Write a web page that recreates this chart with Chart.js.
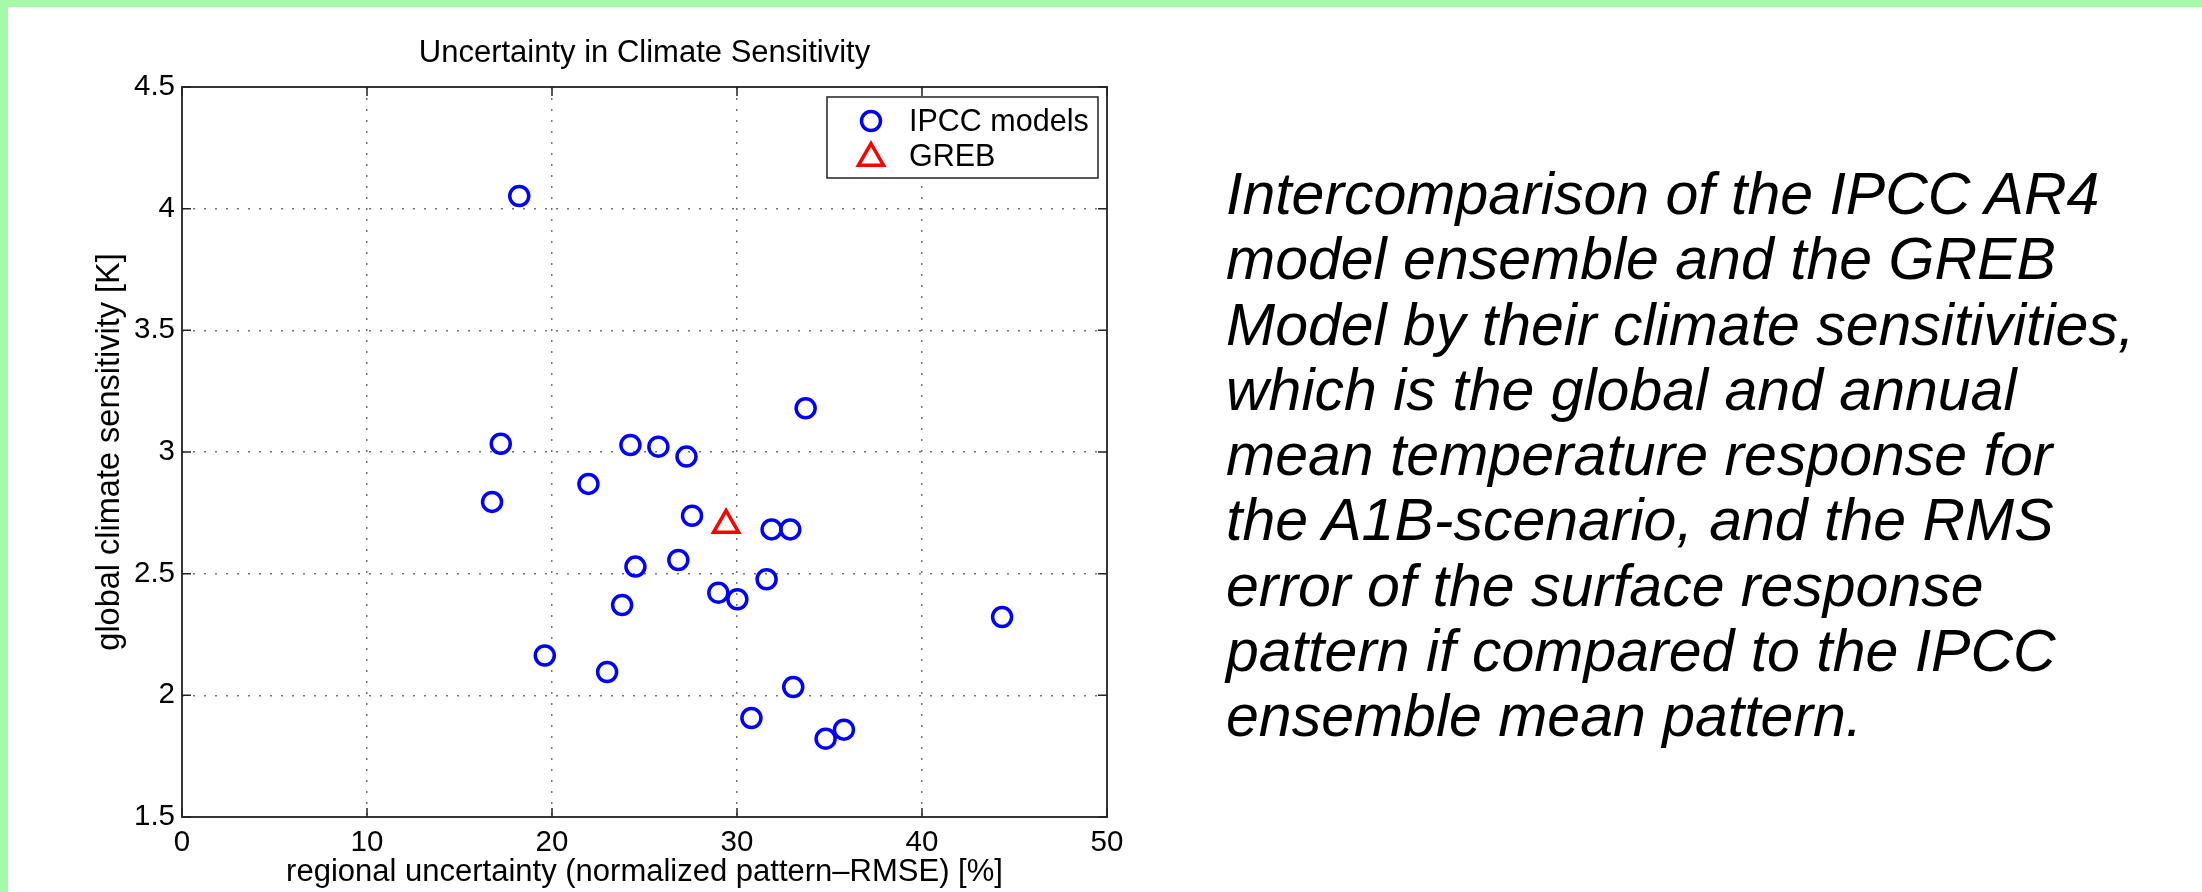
<!DOCTYPE html>
<html>
<head>
<meta charset="utf-8">
<script src="https://cdn.jsdelivr.net/npm/chart.js@4.4.1/dist/chart.umd.min.js"></script>
<style>
  html, body { margin: 0; padding: 0; background: #fff; }
  body { width: 2202px; height: 892px; position: relative; overflow: hidden; }
  .band-top { position: absolute; left: 0; top: 0; width: 2202px; height: 7px; background: #a6f9a6; z-index: 2; }
  .band-left { position: absolute; left: 0; top: 0; width: 8px; height: 892px; background: #a6f9a6; z-index: 2; }
  #plot { position: absolute; left: 0; top: 0; width: 1150px; height: 892px; }
  .caption {
    position: absolute; left: 1226px; top: 162px;
    font-family: 'Liberation Sans', Arial, sans-serif; font-style: italic;
    font-size: 59px; line-height: 65.3px; color: #000; white-space: nowrap;
  }
</style>
</head>
<body>
<div id="plot"><canvas id="myChart"></canvas></div>
<div class="caption">Intercomparison of the IPCC AR4<br>model ensemble and the GREB<br>Model by their climate sensitivities,<br>which is the global and annual<br>mean temperature response for<br>the A1B-scenario, and the RMS<br>error of the surface response<br>pattern if compared to the IPCC<br>ensemble mean pattern.</div>
<div class="band-top"></div>
<div class="band-left"></div>
<script>
'use strict';

(function () {

   // IPCC AR4 models: regional uncertainty [%] and global climate sensitivity [K]
   var ipccX = [17.23, 24.24, 25.75, 27.27, 21.97, 16.76, 27.57, 31.87, 32.88, 26.83, 24.51, 31.60,
                28.99, 30.02, 23.79, 44.33, 19.61, 22.98, 33.04, 30.78, 35.78, 34.79, 18.23, 33.71];
   var ipccY = [3.034, 3.029, 3.022, 2.981, 2.869, 2.795, 2.738, 2.682, 2.682, 2.556, 2.529, 2.477,
                2.422, 2.395, 2.371, 2.322, 2.164, 2.096, 2.034, 1.907, 1.859, 1.822, 4.052, 3.180];

   // GREB model
   var grebX = [29.41];
   var grebY = [2.70];

   var seriesNames = ['IPCC models', 'GREB'];
   var xTickLabels = ['0', '10', '20', '30', '40', '50'];
   var yTickLabels = ['1.5', '2', '2.5', '3', '3.5', '4', '4.5'];

   var fontFam = "'Liberation Sans', Arial, Helvetica, sans-serif";
   Chart.defaults.font.family = fontFam;
   Chart.defaults.color = '#000';

   function toPoints(xs, ys) {
      return xs.map(function (x, i) { return {x: x, y: ys[i]}; });
   }

   // grid only on the inner ticks, the edges are the box
   function gridColor(ctx) {
      var s = ctx.scale;
      if (ctx.tick && (ctx.tick.value === s.min || ctx.tick.value === s.max)) return 'rgba(0,0,0,0)';
      return 'rgba(0,0,0,0.55)';
   }

   //matlab-like box, inward ticks and legend
   var boxPlugin = {
      id: 'matlabBox',
      afterDraw: function (chart) {
         var ctx = chart.ctx, a = chart.chartArea;
         var xs = chart.scales.x, ys = chart.scales.y;
         ctx.save();
         ctx.strokeStyle = '#222';
         ctx.lineWidth = 1.8;
         ctx.strokeRect(a.left, a.top, a.right - a.left, a.bottom - a.top);

         ctx.lineWidth = 1.5;
         ctx.beginPath();
         xs.ticks.forEach(function (t) {
            var px = xs.getPixelForValue(t.value);
            ctx.moveTo(px, a.bottom); ctx.lineTo(px, a.bottom - 9);
            ctx.moveTo(px, a.top); ctx.lineTo(px, a.top + 9);
         });
         ys.ticks.forEach(function (t) {
            var py = ys.getPixelForValue(t.value);
            ctx.moveTo(a.left, py); ctx.lineTo(a.left + 9, py);
            ctx.moveTo(a.right, py); ctx.lineTo(a.right - 9, py);
         });
         ctx.stroke();

         // legend box, top right inside the axes
         var bw = 271, bh = 81;
         var bx = a.right - 9 - bw, by = a.top + 10;
         ctx.fillStyle = '#fff';
         ctx.fillRect(bx, by, bw, bh);
         ctx.strokeStyle = '#222';
         ctx.lineWidth = 1.5;
         ctx.strokeRect(bx, by, bw, bh);

         var rows = [by + 24, by + 61];
         ctx.font = '30.5px ' + fontFam;
         ctx.textBaseline = 'alphabetic';
         chart.data.datasets.forEach(function (ds, i) {
            var cx = bx + 44, cy = rows[i];
            ctx.strokeStyle = ds.borderColor;
            ctx.fillStyle = 'rgba(0,0,0,0)';
            ctx.lineWidth = ds.pointBorderWidth;
            Chart.helpers.drawPoint(ctx, {
               pointStyle: ds.pointStyle, radius: ds.pointRadius,
               borderWidth: ds.pointBorderWidth, rotation: 0
            }, cx, cy);
            ctx.fillStyle = '#000';
            ctx.fillText(ds.label, bx + 82, cy + 10 + (i === 1 ? -2 : 0));
         });
         ctx.restore();
      }
   };

   var ctx = document.getElementById('myChart').getContext('2d');
   var myChart = new Chart(ctx, {
      type: 'scatter',
      data: {
         datasets: [{
            label: seriesNames[0],
            data: toPoints(ipccX, ipccY),
            pointStyle: 'circle',
            pointRadius: 9.5,
            pointBorderWidth: 3.5,
            borderColor: '#0000ff',
            backgroundColor: 'rgba(0,0,0,0)'
         }, {
            label: seriesNames[1],
            data: toPoints(grebX, grebY),
            pointStyle: 'triangle',
            pointRadius: 14.5,
            pointBorderWidth: 3.5,
            borderColor: '#ff0000',
            backgroundColor: 'rgba(0,0,0,0)'
         }]
      },
      options: {
         responsive: true,
         maintainAspectRatio: false,
         devicePixelRatio: 1,
         animation: false,
         layout: { padding: {left: 0, top: 0, right: 43, bottom: 0} },
         plugins: {
            legend: { display: false },
            tooltip: { enabled: false },
            title: {
               display: true,
               fullSize: false,
               text: 'Uncertainty in Climate Sensitivity',
               color: '#000',
               font: { size: 31, weight: 'normal' },
               padding: { top: 34.7, bottom: 15.1 }
            }
         },
         scales: {
            x: {
               type: 'linear',
               min: 0, max: 50,
               afterFit: function (s) { s.height = 75; },
               ticks: {
                  stepSize: 10,
                  padding: 8,
                  maxRotation: 0,
                  font: { size: 29.5 },
                  callback: function (v, i) { return xTickLabels[i]; }
               },
               grid: { color: gridColor, lineWidth: 1.5, drawTicks: false },
               border: { display: false, dash: [2, 9] },
               title: {
                  display: true,
                  text: 'regional uncertainty (normalized pattern–RMSE) [%]',
                  font: { size: 31 },
                  padding: { top: 0, bottom: 0.5 }
               }
            },
            y: {
               type: 'linear',
               min: 1.5, max: 4.5,
               afterFit: function (s) { s.width = 182; },
               ticks: {
                  stepSize: 0.5,
                  padding: 7,
                  font: { size: 29.5 },
                  callback: function (v, i) { return yTickLabels[i]; }
               },
               grid: { color: gridColor, lineWidth: 1.5, drawTicks: false },
               border: { display: false, dash: [2, 9] },
               title: {
                  display: true,
                  text: 'global climate sensitivity [K]',
                  font: { size: 32.5 },
                  padding: { top: 91, bottom: 0 }
               }
            }
         }
      },
      plugins: [boxPlugin]
   });

})();
</script>
</body>
</html>
